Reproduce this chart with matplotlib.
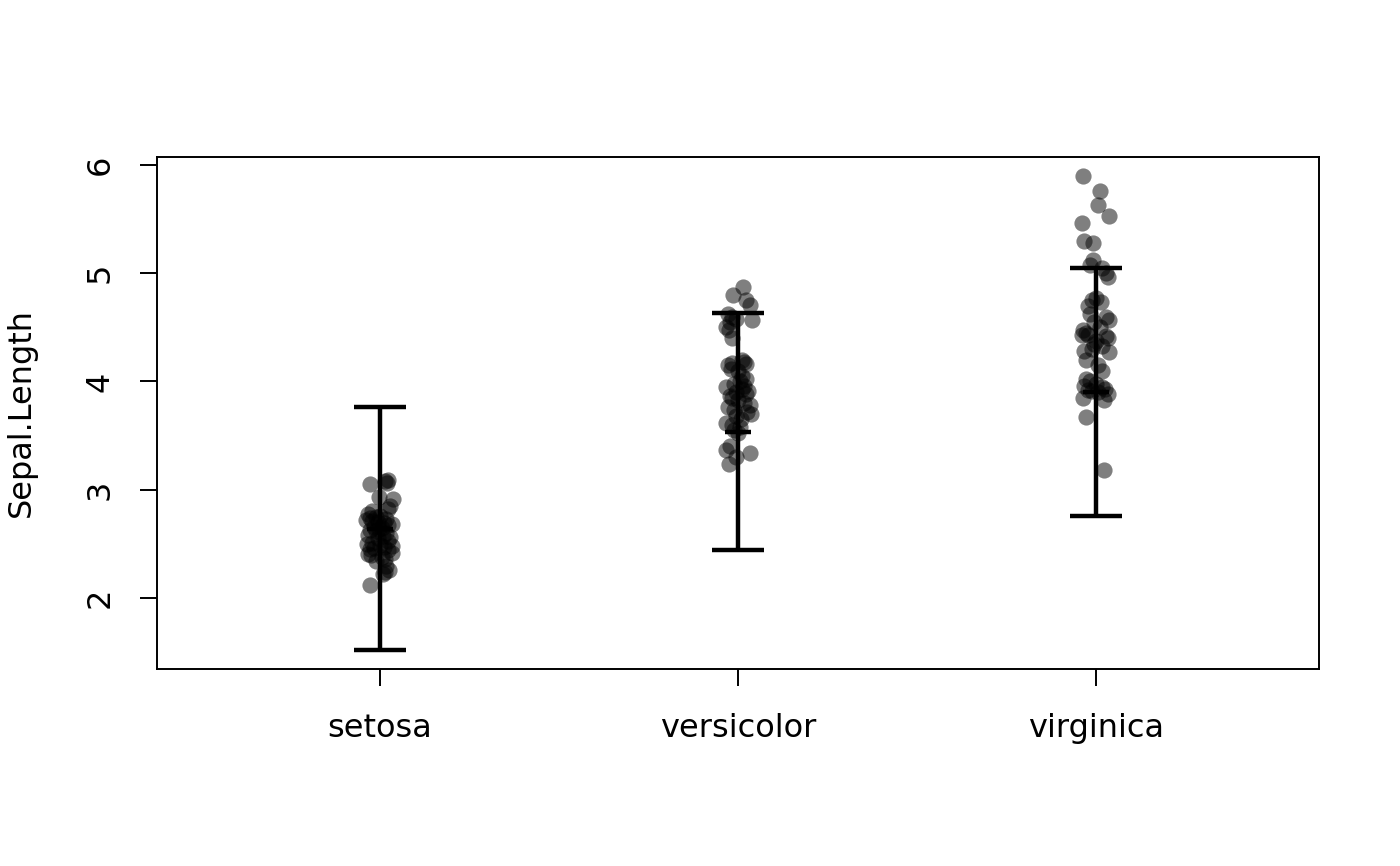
import numpy as np
import matplotlib
matplotlib.use("Agg")
import matplotlib.pyplot as plt

species = ["setosa", "versicolor", "virginica"]

# points (value) and horizontal jitter (in pixels of the original) per group
setosa_y = [3.05, 3.08, 3.09, 3.06, 2.93, 2.91, 2.85, 2.82, 2.80, 2.78,
            2.75, 2.74, 2.72, 2.71, 2.70, 2.69, 2.68, 2.67, 2.66, 2.65,
            2.63, 2.62, 2.60, 2.58, 2.56, 2.55, 2.53, 2.51, 2.50, 2.49,
            2.48, 2.47, 2.46, 2.45, 2.44, 2.42, 2.41, 2.40, 2.38, 2.36,
            2.34, 2.30, 2.26, 2.24, 2.22, 2.12, 2.76, 2.73, 2.64, 2.57]
setosa_dx = [-10, 5, 8, 7, -1, 13, 10, 8, -8, -12,
             -4, -10, -14, -8, -2, 4, 12, 8, -6, 2,
             -10, -4, 6, -12, 10, -2, 8, -8, -13, 0,
             12, 4, -6, -10, 8, 12, -12, -9, 2, 5,
             -4, 6, 9, 5, 3, -10, 0, 6, -1, 3]

versicolor_y = [4.87, 4.80, 4.75, 4.71, 4.62, 4.60, 4.58, 4.57, 4.55, 4.50,
                4.48, 4.40, 4.18, 4.17, 4.16, 4.15, 4.12, 4.10, 4.05, 4.02,
                4.00, 3.98, 3.95, 3.93, 3.91, 3.90, 3.88, 3.85, 3.83, 3.80,
                3.78, 3.76, 3.74, 3.72, 3.70, 3.68, 3.65, 3.62, 3.60, 3.58,
                3.55, 3.52, 3.40, 3.37, 3.34, 3.30, 3.24, 4.20, 3.96, 3.87]
versicolor_dx = [5, -5, 8, 12, -10, -6, -2, 14, -8, -12,
                 -9, -6, 6, -6, 8, -10, -7, 0, 4, 8,
                 2, -4, -12, 4, 10, -2, 8, -6, 0, 6,
                 12, -10, -4, 9, 13, -2, 3, -12, -6, 2,
                 -4, 0, -8, -12, 12, -2, -9, 4, 6, -8]

virginica_y = [5.90, 5.76, 5.63, 5.53, 5.46, 5.30, 5.28, 5.12, 5.08, 5.05,
               5.00, 4.97, 4.77, 4.75, 4.73, 4.70, 4.60, 4.57, 4.55, 4.48,
               4.45, 4.43, 4.43, 4.42, 4.40, 4.37, 4.33, 4.30, 4.28, 4.27,
               4.20, 4.02, 4.00, 3.98, 3.96, 3.95, 3.93, 3.92, 3.91, 3.88,
               3.85, 3.83, 3.67, 3.18, 4.50, 4.62, 4.15, 4.10, 3.90, 4.35]
virginica_dx = [-13, 4, 2, 13, -14, -12, -3, -3, -6, 6,
                10, 12, 0, -4, 5, -8, 10, 13, -2, -13,
                -10, -14, -8, 10, 12, 0, 6, -4, -12, 13,
                -10, -10, -6, 0, -12, 6, 9, -8, -4, 12,
                -13, 8, -10, 8, 4, -6, 2, 6, 2, -2]

bar_center = [2.64, 3.535, 3.905]
bar_half = [1.125, 1.095, 1.145]

points = [(setosa_y, setosa_dx), (versicolor_y, versicolor_dx), (virginica_y, virginica_dx)]

fig = plt.figure(figsize=(7, 4.33), dpi=200)
ax = fig.add_axes([0.1121, 0.2275, 0.83, 0.5912])

px_per_unit = 358.5
for i, (ys, dxs) in enumerate(points):
    xs = (i + 1) + np.array(dxs) / px_per_unit
    ax.scatter(xs, ys, s=34, color="black", alpha=0.5, linewidths=0, zorder=2)

pos = np.arange(1, len(species) + 1)
ax.errorbar(pos, bar_center, yerr=bar_half, fmt="none", ecolor="black",
            elinewidth=1.6, capsize=9.4, capthick=1.6, zorder=3)
ax.plot(pos, bar_center, linestyle="none", marker="_", markersize=9.4,
        markeredgewidth=1.6, color="black", zorder=3)

ax.set_xlim(0.378, 3.622)
ax.set_ylim(1.344, 6.074)
ax.set_xticks(pos)
ax.set_xticklabels(species)
ax.set_yticks([2, 3, 4, 5, 6])
ax.set_yticklabels(["2", "3", "4", "5", "6"], rotation=90, va="center")
ax.set_ylabel("Sepal.Length", fontsize=11.5, labelpad=17)

ax.tick_params(axis="both", direction="out", length=6, width=0.7, labelsize=11.5)
ax.tick_params(axis="x", pad=10)
ax.tick_params(axis="y", pad=9)
for sp in ax.spines.values():
    sp.set_linewidth(0.7)

fig.savefig("out.png", dpi=200)
